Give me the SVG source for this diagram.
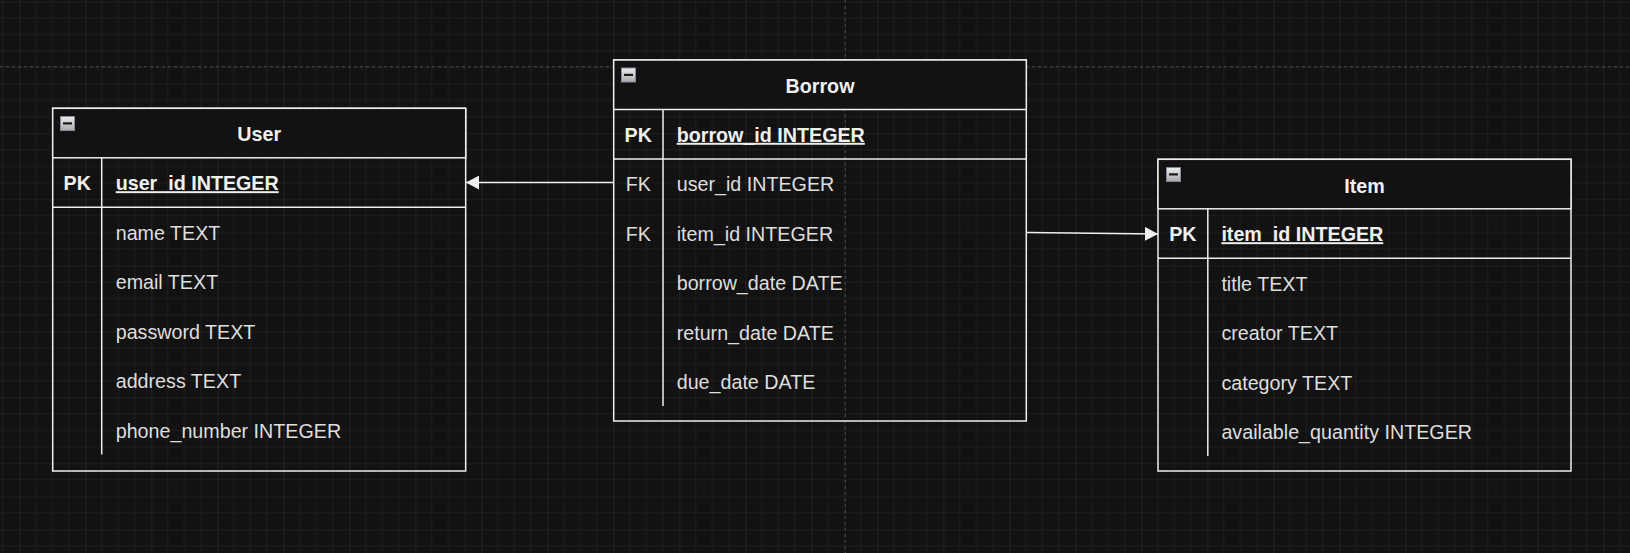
<svg xmlns="http://www.w3.org/2000/svg" width="1630" height="553" viewBox="0 0 1630 553">
<defs>
<pattern id="grid" patternUnits="userSpaceOnUse" x="19.3" y="1.3" width="66" height="66">
<path d="M16.5 0V66M33 0V66M49.5 0V66M0 16.5H66M0 33H66M0 49.5H66" stroke="#1e1e1e" stroke-width="1" fill="none"/>
<path d="M0 0V66M0 0H66" stroke="#2b2b2b" stroke-width="1.2" fill="none"/>
</pattern>
<linearGradient id="ig" x1="0" y1="0" x2="0" y2="1">
<stop offset="0" stop-color="#eeeeee"/>
<stop offset="1" stop-color="#a9a9a9"/>
</linearGradient>
<marker id="arr" markerUnits="userSpaceOnUse" markerWidth="14" markerHeight="14" refX="13" refY="7" orient="auto">
<path d="M0 0L13 7L0 14Z" fill="#f0f0f0"/>
</marker>
<g id="icon">
<rect x="0.5" y="0.5" width="14" height="14" fill="url(#ig)" stroke="#7f8b9b" stroke-width="1"/>
<rect x="3" y="6.3" width="9" height="2.2" fill="#1a1a1a"/>
</g>
</defs>
<style>
.frame{fill:none;stroke:#eeeeee;stroke-width:1.5}
.hdr{fill:#121212;stroke:#eeeeee;stroke-width:1.5}
.ln{stroke:#eeeeee;stroke-width:1.5;fill:none}
.t{font-family:"Liberation Sans",Arial,sans-serif;font-size:19.7px;fill:#dedede}
.b{font-family:"Liberation Sans",Arial,sans-serif;font-size:19.7px;font-weight:bold;fill:#f0f0f0}
.u{text-decoration:underline}
.c{text-anchor:middle}
.edge{stroke:#f0f0f0;stroke-width:1.5;fill:none;marker-end:url(#arr)}
</style>
<rect width="1630" height="553" fill="#121212"/>
<rect width="1630" height="553" fill="url(#grid)"/>
<path d="M0 66.7H1630" stroke="#4a4a4a" stroke-width="1" stroke-dasharray="3 3"/>
<path d="M845.3 0V553" stroke="#4a4a4a" stroke-width="1" stroke-dasharray="3 3"/>

<g id="connectors">
<path class="edge" d="M613.7 182.6H466"/>
<path class="edge" d="M1026.5 232.5L1158 234"/>
</g>

<g id="user">
<rect class="frame" x="52.7" y="108.3" width="413" height="362.7"/>
<rect class="hdr" x="52.7" y="108.3" width="413" height="49.5"/>
<use href="#icon" x="60" y="116"/>
<text class="b c" x="259.2" y="141.2">User</text>
<path class="ln" d="M52.7 207.3H465.7M101.7 157.8V454.5"/>
<text class="b c" x="77.2" y="190.2">PK</text>
<text class="b u" x="115.7" y="190.2">user_id INTEGER</text>
<text class="t" x="115.7" y="239.7">name TEXT</text>
<text class="t" x="115.7" y="289.2">email TEXT</text>
<text class="t" x="115.7" y="338.7">password TEXT</text>
<text class="t" x="115.7" y="388.2">address TEXT</text>
<text class="t" x="115.7" y="437.7">phone_number INTEGER</text>
</g>

<g id="borrow">
<rect class="frame" x="613.7" y="60" width="412.6" height="361"/>
<rect class="hdr" x="613.7" y="60" width="412.6" height="49.5"/>
<use href="#icon" x="621" y="67.5"/>
<text class="b c" x="820" y="92.7">Borrow</text>
<path class="ln" d="M613.7 159H1026.3M663 109.5V406"/>
<text class="b c" x="638.3" y="141.8">PK</text>
<text class="b u" x="676.7" y="141.8">borrow_id INTEGER</text>
<text class="t c" x="638.3" y="191.3">FK</text>
<text class="t" x="676.7" y="191.3">user_id INTEGER</text>
<text class="t c" x="638.3" y="240.8">FK</text>
<text class="t" x="676.7" y="240.8">item_id INTEGER</text>
<text class="t" x="676.7" y="290.3">borrow_date DATE</text>
<text class="t" x="676.7" y="339.8">return_date DATE</text>
<text class="t" x="676.7" y="389.3">due_date DATE</text>
</g>

<g id="item">
<rect class="frame" x="1158" y="159.3" width="413" height="311.7"/>
<rect class="hdr" x="1158" y="159.3" width="413" height="49.5"/>
<use href="#icon" x="1166" y="167"/>
<text class="b c" x="1364.5" y="192.6">Item</text>
<path class="ln" d="M1158 258.3H1571M1207.8 208.8V456"/>
<text class="b c" x="1182.9" y="241.2">PK</text>
<text class="b u" x="1221.4" y="241.2">item_id INTEGER</text>
<text class="t" x="1221.4" y="290.8">title TEXT</text>
<text class="t" x="1221.4" y="340.3">creator TEXT</text>
<text class="t" x="1221.4" y="389.8">category TEXT</text>
<text class="t" x="1221.4" y="439.3">available_quantity INTEGER</text>
</g>
</svg>
